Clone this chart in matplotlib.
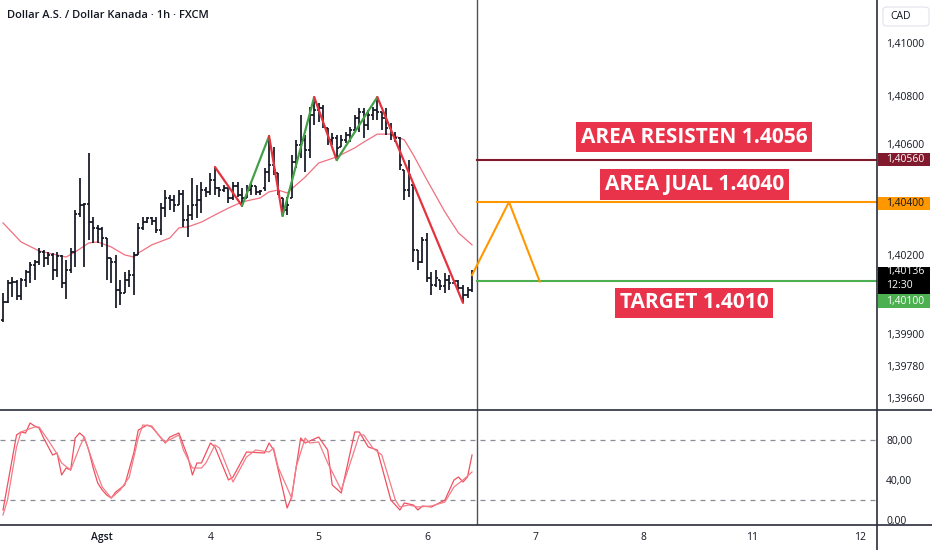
import matplotlib
matplotlib.use("Agg")
import matplotlib.pyplot as plt
from matplotlib.lines import Line2D
from matplotlib.patches import Rectangle, FancyBboxPatch
from matplotlib.transforms import offset_copy

plt.rcParams['font.family'] = ['Open Sans', 'DejaVu Sans']

# ---------------- data ----------------
title = "Dollar A.S. / Dollar Kanada · 1h · FXCM"

opens = [
    1.39954, 1.40023, 1.40094, 1.40098, 1.40045, 1.40105, 1.40136, 1.40162, 1.40174, 1.40211,
    1.40189, 1.40200, 1.40143, 1.40196, 1.40094, 1.40143, 1.40211, 1.40355, 1.40389, 1.40392,
    1.40324, 1.40302, 1.40298, 1.40264, 1.40189, 1.40174, 1.40068, 1.40057, 1.40105, 1.40124,
    1.40200, 1.40302, 1.40324, 1.40340, 1.40328, 1.40294, 1.40377, 1.40415, 1.40407, 1.40389,
    1.40430, 1.40332, 1.40351, 1.40389, 1.40407, 1.40445, 1.40438, 1.40483, 1.40453, 1.40445,
    1.40453, 1.40415, 1.40460, 1.40426, 1.40415, 1.40445, 1.40460, 1.40438, 1.40453, 1.40513,
    1.40539, 1.40509, 1.40415, 1.40370, 1.40415, 1.40551, 1.40615, 1.40634, 1.40596, 1.40728,
    1.40747, 1.40755, 1.40679, 1.40634, 1.40641, 1.40607, 1.40634, 1.40653, 1.40672, 1.40717,
    1.40740, 1.40690, 1.40728, 1.40747, 1.40740, 1.40717, 1.40679, 1.40653, 1.40641, 1.40521,
    1.40445, 1.40464, 1.40219, 1.40174, 1.40256, 1.40113, 1.40087, 1.40105, 1.40083, 1.40105,
    1.40094, 1.40102, 1.40075, 1.40049, 1.40068]

highs = [
    1.40057, 1.40105, 1.40117, 1.40105, 1.40113, 1.40143, 1.40174, 1.40181, 1.40226, 1.40219,
    1.40211, 1.40207, 1.40211, 1.40200, 1.40181, 1.40226, 1.40370, 1.40490, 1.40396, 1.40585,
    1.40343, 1.40313, 1.40306, 1.40264, 1.40189, 1.40200, 1.40105, 1.40136, 1.40143, 1.40211,
    1.40321, 1.40343, 1.40343, 1.40343, 1.40343, 1.40396, 1.40445, 1.40426, 1.40426, 1.40445,
    1.40445, 1.40389, 1.40490, 1.40464, 1.40475, 1.40456, 1.40509, 1.40532, 1.40456, 1.40464,
    1.40453, 1.40475, 1.40475, 1.40453, 1.40464, 1.40475, 1.40460, 1.40445, 1.40528, 1.40649,
    1.40607, 1.40509, 1.40415, 1.40419, 1.40577, 1.40634, 1.40728, 1.40653, 1.40758, 1.40796,
    1.40774, 1.40766, 1.40679, 1.40660, 1.40653, 1.40653, 1.40664, 1.40683, 1.40728, 1.40755,
    1.40755, 1.40747, 1.40758, 1.40796, 1.40740, 1.40755, 1.40698, 1.40664, 1.40645, 1.40521,
    1.40558, 1.40464, 1.40219, 1.40268, 1.40283, 1.40136, 1.40143, 1.40105, 1.40132, 1.40124,
    1.40105, 1.40105, 1.40087, 1.40079, 1.40143]

lows = [
    1.39947, 1.40019, 1.40042, 1.40030, 1.40030, 1.40079, 1.40094, 1.40105, 1.40162, 1.40155,
    1.40162, 1.40105, 1.40117, 1.40075, 1.40034, 1.40132, 1.40155, 1.40343, 1.40155, 1.40256,
    1.40245, 1.40245, 1.40230, 1.40105, 1.40094, 1.40000, 1.40011, 1.40057, 1.40079, 1.40049,
    1.40200, 1.40294, 1.40321, 1.40313, 1.40283, 1.40275, 1.40343, 1.40370, 1.40362, 1.40389,
    1.40306, 1.40268, 1.40332, 1.40340, 1.40358, 1.40419, 1.40426, 1.40426, 1.40419, 1.40438,
    1.40396, 1.40407, 1.40419, 1.40381, 1.40415, 1.40426, 1.40426, 1.40426, 1.40441, 1.40475,
    1.40502, 1.40426, 1.40347, 1.40351, 1.40415, 1.40528, 1.40566, 1.40513, 1.40566, 1.40690,
    1.40702, 1.40679, 1.40615, 1.40615, 1.40558, 1.40607, 1.40623, 1.40626, 1.40664, 1.40664,
    1.40641, 1.40672, 1.40709, 1.40709, 1.40672, 1.40653, 1.40634, 1.40626, 1.40521, 1.40407,
    1.40419, 1.40174, 1.40143, 1.40170, 1.40098, 1.40049, 1.40079, 1.40068, 1.40057, 1.40068,
    1.40094, 1.40068, 1.40019, 1.40038, 1.40060]

closes = [
    1.40023, 1.40094, 1.40098, 1.40045, 1.40105, 1.40136, 1.40162, 1.40174, 1.40211, 1.40189,
    1.40200, 1.40143, 1.40196, 1.40094, 1.40143, 1.40211, 1.40355, 1.40389, 1.40392, 1.40324,
    1.40302, 1.40298, 1.40264, 1.40189, 1.40174, 1.40068, 1.40057, 1.40105, 1.40124, 1.40200,
    1.40302, 1.40324, 1.40340, 1.40328, 1.40294, 1.40377, 1.40415, 1.40407, 1.40389, 1.40430,
    1.40332, 1.40351, 1.40389, 1.40407, 1.40445, 1.40438, 1.40483, 1.40453, 1.40445, 1.40453,
    1.40415, 1.40460, 1.40426, 1.40415, 1.40445, 1.40460, 1.40438, 1.40441, 1.40513, 1.40539,
    1.40521, 1.40438, 1.40370, 1.40389, 1.40551, 1.40615, 1.40634, 1.40596, 1.40728, 1.40747,
    1.40755, 1.40690, 1.40634, 1.40641, 1.40604, 1.40634, 1.40653, 1.40672, 1.40717, 1.40740,
    1.40690, 1.40728, 1.40747, 1.40740, 1.40717, 1.40679, 1.40653, 1.40641, 1.40539, 1.40445,
    1.40502, 1.40219, 1.40174, 1.40256, 1.40113, 1.40087, 1.40113, 1.40083, 1.40105, 1.40094,
    1.40102, 1.40075, 1.40049, 1.40068, 1.40136]

# moving average
ma_bar = [0, 4, 8, 14, 16, 19, 21, 24, 27, 29, 30, 33, 37, 39, 41, 44, 47, 50, 53, 57,
          59, 61, 63, 65, 67, 70, 74, 78, 80, 83, 86, 89, 91, 94, 98, 101, 104]
ma_val = [1.40321, 1.40249, 1.40215, 1.40192, 1.40211, 1.40245, 1.40249, 1.40230, 1.40200, 1.40192,
          1.40207, 1.40238, 1.40264, 1.40302, 1.40306, 1.40324, 1.40351, 1.40377, 1.40400, 1.40415,
          1.40438, 1.40445, 1.40434, 1.40464, 1.40494, 1.40547, 1.40570, 1.40604, 1.40626, 1.40656,
          1.40656, 1.40634, 1.40577, 1.40483, 1.40362, 1.40283, 1.40238]

# zigzag swing points
zz_bar = [47, 53, 59, 62, 69, 74, 83, 102]
zz_val = [1.40532, 1.40385, 1.40649, 1.40347, 1.40796, 1.40558, 1.40796, 1.40019]

# projected path
proj_bar = [104, 112.2, 119]
proj_val = [1.40124, 1.40400, 1.40100]

# levels
lvl_resist = 1.4056
lvl_sell = 1.4040
lvl_target = 1.4010
last_price = 1.40136
countdown = "12:30"
level_start_bar = 105.1
now_bar = 105.1

# stochastic
k_bar = [0, 2, 3, 4, 5, 6, 7, 8, 9, 11,
         12, 13, 14, 15, 16, 17, 18, 19, 20, 21,
         22, 23, 24, 25, 27, 29, 30, 32, 33, 36,
         37, 39, 41, 42, 43, 44, 46, 47, 50, 51,
         54, 58, 59, 60, 63, 64, 66, 67, 70, 72,
         73, 75, 78, 79, 81, 83, 86, 88, 89, 91,
         92, 93, 95, 98, 100, 101, 102, 103, 104]
k_val = [10, 60, 85, 88, 87, 97, 94, 92, 82, 65,
         67, 45, 52, 50, 82, 87, 83, 70, 52, 37,
         30, 25, 22, 28, 35, 67, 90, 95, 93, 77,
         83, 87, 63, 45, 57, 57, 77, 73, 40, 43,
         68, 67, 77, 70, 12, 23, 82, 77, 83, 70,
         35, 27, 88, 88, 73, 70, 20, 10, 17, 15,
         10, 14, 13, 20, 40, 43, 38, 43, 65]
d_bar = [0, 1, 3, 4, 7, 8, 10, 12, 13, 15,
         17, 18, 20, 22, 24, 26, 28, 30, 31, 33,
         35, 36, 39, 40, 42, 44, 45, 47, 48, 51,
         54, 56, 59, 60, 61, 64, 65, 67, 68, 70,
         72, 75, 77, 79, 80, 82, 84, 87, 88, 90,
         92, 95, 98, 100, 102, 104]
d_val = [5, 20, 73, 88, 93, 93, 80, 66, 57, 50,
         73, 83, 57, 33, 22, 30, 43, 82, 95, 94,
         82, 78, 85, 70, 52, 52, 57, 75, 72, 38,
         63, 70, 68, 72, 53, 22, 53, 82, 77, 78,
         57, 30, 57, 85, 85, 72, 65, 20, 13, 15,
         13, 14, 18, 33, 40, 48]
stoch_levels = [80, 20]

day_ticks = [22, 46, 70, 94, 118, 142, 166, 190]
day_labels = ['Agst', '4', '5', '6', '7', '8', '11', '12']
price_ticks = [1.41, 1.408, 1.406, 1.402, 1.399, 1.3978, 1.3966]
stoch_ticks = [0, 40, 80]

notes = [("AREA RESISTEN 1.4056", 153.3, 1.40645),
         ("AREA JUAL 1.4040", 153.3, 1.40466),
         ("TARGET 1.4010", 153.3, 1.40020)]

assert len(opens) == len(highs) == len(lows) == len(closes)
assert len(k_bar) == len(k_val) and len(d_bar) == len(d_val) and len(ma_bar) == len(ma_val)

# ---------------- figure ----------------
W, H = 932, 550
fig = plt.figure(figsize=(W / 100, H / 100), dpi=100)
fig.patch.set_facecolor('white')

AX_R = 877 / W
ax = fig.add_axes([0, 1 - 410 / H, AX_R, 410 / H])
ax2 = fig.add_axes([0, 1 - 525 / H, AX_R, 115 / H])

XMIN, XMAX = -0.665, 193.8
for a in (ax, ax2):
    a.set_xlim(XMIN, XMAX)
    for s in a.spines.values():
        s.set_visible(False)
    a.set_facecolor('none')
ax.set_ylim(1.396146, 1.411623)
ax2.set_ylim(-5, 110)

TXT = '#131722'
BAR = '#131722'

# OHLC bars
xs = list(range(len(opens)))
ax.vlines(xs, lows, highs, color=BAR, lw=1.25, zorder=3)
ax.hlines(opens, [x - 0.45 for x in xs], xs, color=BAR, lw=1.25, zorder=3)
ax.hlines(closes, xs, [x + 0.45 for x in xs], color=BAR, lw=1.25, zorder=3)

# moving average
ax.plot(ma_bar, ma_val, color='#f07080', lw=0.9, zorder=2)

# zigzag
for i in range(len(zz_bar) - 1):
    col = '#43a047' if zz_val[i + 1] > zz_val[i] else '#e5323f'
    ax.plot(zz_bar[i:i + 2], zz_val[i:i + 2], color=col, lw=1.6, zorder=4,
            solid_capstyle='round')

# levels
ax.plot([level_start_bar, XMAX], [lvl_resist] * 2, color='#801a2c', lw=1.5, zorder=4)
ax.plot([level_start_bar, XMAX], [lvl_sell] * 2, color='#ff9800', lw=1.5, zorder=4)
ax.plot([level_start_bar, XMAX], [lvl_target] * 2, color='#4caf50', lw=1.5, zorder=4)

# projection
ax.plot(proj_bar, proj_val, color='#ff9800', lw=1.5, zorder=5)

# vertical "now" line
ax.axvline(now_bar, color='#50535e', lw=1.0, zorder=1)
ax2.axvline(now_bar, color='#50535e', lw=1.0, zorder=1)

# notes
for txt, bx, by in notes:
    ax.text(bx, by, txt, ha='center', va='center', color='white', fontsize=15,
            fontweight='bold', zorder=6,
            bbox=dict(boxstyle='square,pad=0.22', fc='#e8334a', ec='none'))

# price axis
ax.yaxis.tick_right()
ax.set_yticks(price_ticks)
ax.set_yticklabels([f"{v:.5f}".replace('.', ',') for v in price_ticks])
ax.tick_params(axis='y', length=0, pad=6.5, labelsize=7.5, labelcolor=TXT)
ax.tick_params(axis='x', bottom=False, labelbottom=False)
# the 1,40600 label sits just above the resistance tag (as in the reference)
for lab in ax.get_yticklabels():
    if lab.get_text() == '1,40600':
        lab.set_transform(offset_copy(lab.get_transform(), fig=fig, x=0, y=5, units='dots'))


def fmt(v):
    return f"{v:.5f}".replace('.', ',')


def tag_box(y_bottom_px, h_px, fc):
    fig.add_artist(Rectangle((878 / W, y_bottom_px / H), 52 / W, h_px / H,
                             transform=fig.transFigure, fc=fc, ec='none', zorder=10))


def px(price):
    return ax.transData.transform((0, price))[1]


# resistance tag
p = px(lvl_resist)
tag_box(p - 6.5, 13, '#801a2c')
fig.text(886 / W, p / H, fmt(lvl_resist), color='white', fontsize=7.5, va='center', ha='left', zorder=11)
# sell tag
p = px(lvl_sell) - 1.5
tag_box(p - 6.5, 13, '#ff9800')
fig.text(886 / W, p / H, fmt(lvl_sell), color=TXT, fontsize=7.5, va='center', ha='left', zorder=11)
# last price tag with countdown
p = px(last_price)
tag_box(p - 22, 27, '#000000')
fig.text(886 / W, p / H, fmt(last_price), color='white', fontsize=7.5, va='center', ha='left', zorder=11)
fig.text(886 / W, (p - 14) / H, countdown, color='white', fontsize=7.5, va='center', ha='left', zorder=11)
# target tag (pushed below the last price tag)
p = px(lvl_target) - 20
tag_box(p - 7, 14, '#4caf50')
fig.text(886 / W, p / H, fmt(lvl_target), color='white', fontsize=7.5, va='center', ha='left', zorder=11)

# currency box
fig.add_artist(FancyBboxPatch((883 / W, (H - 26) / H), 46 / W, 19 / H,
                              boxstyle='round,pad=0,rounding_size=0.005',
                              transform=fig.transFigure, fc='white', ec='#e0e3eb', lw=0.8))
fig.text(890 / W, (H - 16.5) / H, "CAD", color=TXT, fontsize=7.5, va='center', ha='left')

# stochastic
ax2.plot(k_bar, k_val, color='#f0505f', lw=0.9, zorder=3)
ax2.plot(d_bar, d_val, color='#f27c88', lw=0.9, zorder=3)
for lv in stoch_levels:
    ax2.axhline(lv, color='#8a8d96', lw=0.9, ls=(0, (4, 4)), zorder=1)
ax2.yaxis.tick_right()
ax2.set_yticks(stoch_ticks)
ax2.set_yticklabels([f"{v:.2f}".replace('.', ',') for v in stoch_ticks])
ax2.tick_params(axis='y', length=0, pad=6.5, labelsize=7.5, labelcolor=TXT)
ax2.set_xticks(day_ticks)
ax2.set_xticklabels(day_labels)
ax2.tick_params(axis='x', length=0, pad=5, labelsize=7.5, labelcolor=TXT)
ax2.get_xticklabels()[0].set_fontweight('semibold')

# panel borders
BORDER = '#2a2e39'
fig.add_artist(Line2D([0, 1], [1 - 410 / H] * 2, color=BORDER, lw=1.2, transform=fig.transFigure))
fig.add_artist(Line2D([0, 1], [1 - 525 / H] * 2, color=BORDER, lw=1.2, transform=fig.transFigure))
fig.add_artist(Line2D([AX_R, AX_R], [0, 1], color=BORDER, lw=1.2, transform=fig.transFigure))

# title
fig.text(7 / W, (H - 16) / H, title, color=TXT, fontsize=8, fontweight='semibold',
         va='center', ha='left')

fig.savefig('out.png', dpi=100, facecolor='white')
